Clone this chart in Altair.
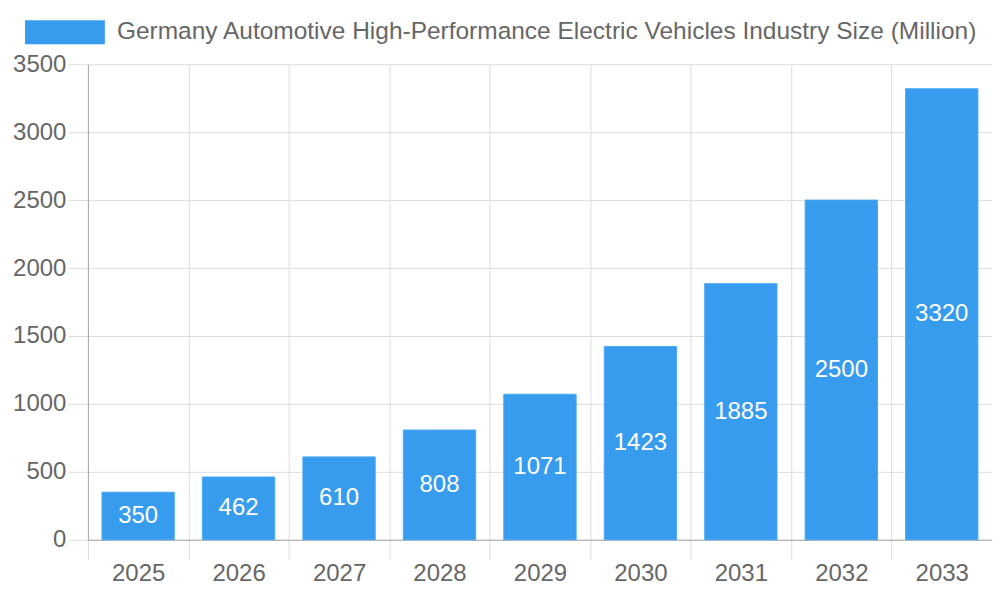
import pandas as pd
import altair as alt

# ---------------------------------------------------------------------------
# Data
# ---------------------------------------------------------------------------
years = ["2025", "2026", "2027", "2028", "2029", "2030", "2031", "2032", "2033"]
sizes = [350, 462, 610, 808, 1071, 1423, 1885, 2500, 3320]
series_name = "Germany Automotive High-Performance Electric Vehicles Industry Size (Million)"
y_ticks = [0, 500, 1000, 1500, 2000, 2500, 3000, 3500]

df = pd.DataFrame({"year": years, "size": sizes, "series": series_name})

BLUE = "#389cee"
FONT = "Liberation Sans"
GRID = "#dddddd"
FS = 24

x_enc = alt.X(
    "year:N",
    sort=years,
    title=None,
    scale=alt.Scale(paddingInner=0, paddingOuter=0),
    axis=alt.Axis(
        tickBand="extent",
        grid=True,
        gridColor=GRID,
        tickColor=GRID,
        tickSize=20,
        labelAngle=0,
        labelPadding=2,
        domainColor="#a6a6a6",
        labelFontSize=FS,
        labelColor="#666666",
    ),
)

bars = (
    alt.Chart(df)
    .mark_bar(stroke="#4aa8f2", strokeWidth=1, width=alt.RelativeBandSize(0.72))
    .encode(
        x=x_enc,
        y=alt.Y(
            "size:Q",
            title=None,
            scale=alt.Scale(domain=[0, 3500], nice=False),
            axis=alt.Axis(
                values=y_ticks,
                format="d",
                grid=True,
                gridColor=GRID,
                tickColor=GRID,
                tickSize=20,
                labelPadding=2,
                domainColor="#a6a6a6",
                labelFontSize=FS,
                labelColor="#666666",
            ),
        ),
        color=alt.Color(
            "series:N",
            scale=alt.Scale(domain=[series_name], range=[BLUE]),
            legend=alt.Legend(
                title=None,
                orient="none",
                legendX=-63,
                legendY=-72,
                padding=0,
                symbolType="M-1,-0.3H1V0.3H-1Z",
                symbolSize=6400,
                symbolStrokeWidth=0,
                symbolOpacity=1,
                labelOffset=12,
                labelFontSize=24.5,
                labelColor="#666666",
                labelLimit=0,
            ),
        ),
    )
)

labels = (
    alt.Chart(df)
    .transform_calculate(mid="datum.size / 2")
    .mark_text(color="white", fontSize=FS, baseline="middle", align="center")
    .encode(
        x=alt.X("year:N", sort=years),
        y=alt.Y("mid:Q"),
        text=alt.Text("size:Q"),
    )
)

chart = (
    alt.layer(bars, labels)
    .properties(
        width=905,
        height=476,
        autosize=alt.AutoSizeParams(type="none"),
        padding={"left": 80, "top": 56, "right": 0, "bottom": 64},
    )
    .configure(font=FONT)
    .configure_view(stroke=None)
)

chart.save("out.html", embed_options={"renderer": "svg", "actions": False})
